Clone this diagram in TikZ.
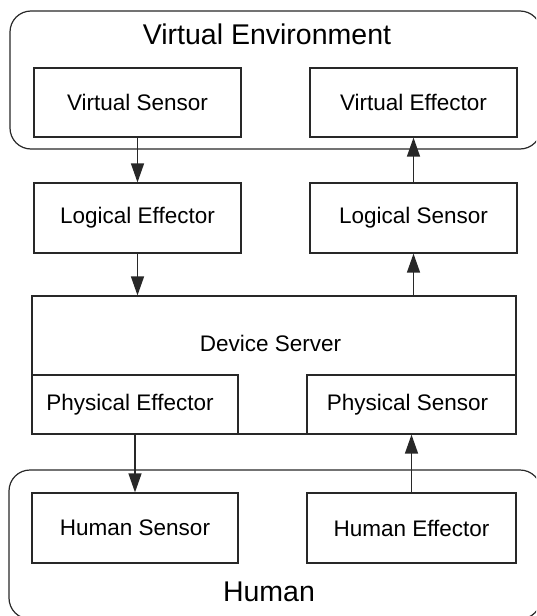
\documentclass[tikz,border=0pt]{standalone}
\usepackage{fontspec}
\setmainfont{Liberation Sans}
\usetikzlibrary{arrows.meta}
\definecolor{ink}{RGB}{40,40,40}
\tikzset{
  box/.style={draw=ink, line width=1.2pt, fill=white, inner sep=0pt,
              font=\fontsize{22.5}{25}\selectfont},
  wide/.style={minimum width=207pt, minimum height=69pt},
  container/.style={draw=ink, line width=1.2pt, rounded corners=21pt},
  title/.style={inner sep=0pt, font=\fontsize{28.5}{31}\selectfont},
  flow/.style={draw=ink, line width=1.3pt, -{Triangle[length=19pt,width=13pt]}}
}
\begin{document}
\begin{tikzpicture}[x=1pt,y=-1pt]
  \useasboundingbox (0,0) rectangle (536,616);
  \clip (0,0) rectangle (536,616);

  % outer environments
  \draw[container] (10,11) rectangle (541,149);
  \node[title] (venv) at (267,34) {Virtual Environment};
  \draw[container] (9,470) rectangle (541,619);
  \node[title] (human) at (269,592) {Human};

  % virtual and logical layers
  \node[box, wide] (vs) at (137.5,102.5) {Virtual Sensor};
  \node[box, wide] (ve) at (413.5,102.5) {Virtual Effector};
  \node[box, wide, minimum height=70pt] (le) at (137.5,218) {Logical Effector};
  \node[box, wide, minimum height=70pt] (ls) at (413.5,218) {Logical Sensor};

  % device server with its physical parts
  \node[box, minimum width=484pt, minimum height=138pt] (ds) at (274,365) {};
  \node[inner sep=0pt, font=\fontsize{22.5}{25}\selectfont] (dslabel) at (270.5,343) {Device Server};
  \node[box, minimum width=206pt, minimum height=59pt] (pe) at (135,404.5) {\hspace*{-10pt}Physical Effector};
  \node[box, minimum width=209pt, minimum height=59pt] (ps) at (411.5,404.5) {\hspace*{-8pt}Physical Sensor};

  % human layer
  \node[box, minimum width=206pt, minimum height=70pt] (hs) at (135,528) {Human Sensor};
  \node[box, minimum width=209pt, minimum height=70pt] (he) at (411.5,528) {Human Effector};

  % data flow
  \draw[flow] (vs.south) -- (le.north);
  \draw[flow] (le.south) -- (le.south |- ds.north);
  \draw[flow] (ls.south |- ds.north) -- (ls.south);
  \draw[flow] (ls.north) -- (ve.south);
  \draw[flow] (pe.south) -- (hs.north);
  \draw[flow] (he.north) -- (ps.south);
\end{tikzpicture}
\end{document}
